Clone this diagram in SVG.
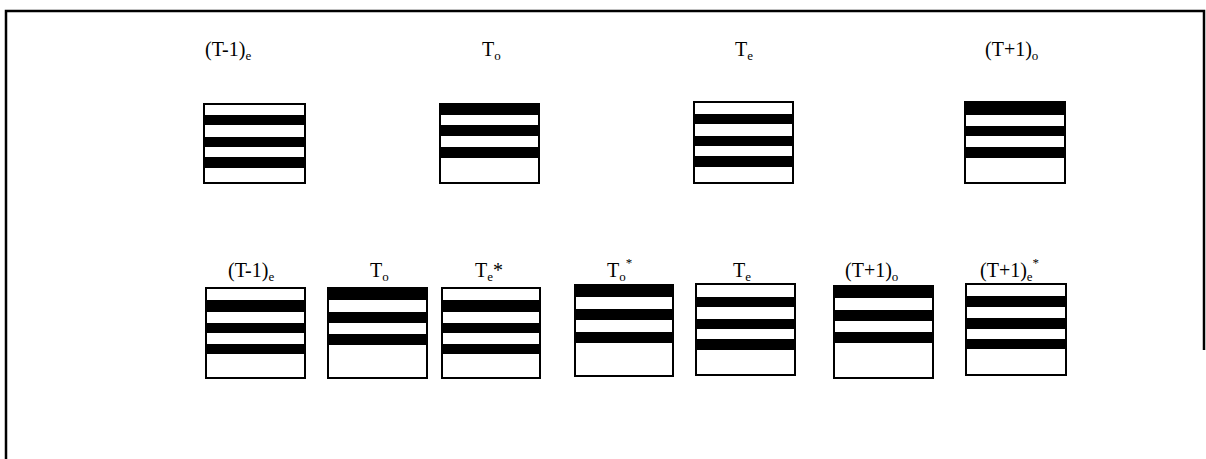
<svg xmlns="http://www.w3.org/2000/svg" width="1206" height="459" viewBox="0 0 1206 459">
  <style>
    .frame { fill: none; stroke: #000; stroke-width: 2.5; }
    .box { fill: #fff; stroke: #000; stroke-width: 2; }
    .bar { fill: #000; }
    .lbl { font-family: "Liberation Serif", "Times New Roman", serif; font-size: 20px; fill: #000; }
    .sub { font-size: 13px; }
  </style>

  <rect width="1206" height="459" fill="#fff"/>

  <!-- open frame: top, left and right edges -->
  <path class="frame" d="M6,459 V11 H1204 V350"/>

  <!-- top row -->
  <g id="top-T-1e">
    <text class="lbl" x="205" y="56">(T-1)<tspan class="sub" dy="4">e</tspan></text>
    <rect class="box" x="204" y="104" width="101" height="79"/>
    <rect class="bar" x="204" y="115" width="101" height="10"/>
    <rect class="bar" x="204" y="137" width="101" height="10"/>
    <rect class="bar" x="204" y="157" width="101" height="11"/>
  </g>

  <g id="top-To">
    <text class="lbl" x="482" y="56">T<tspan class="sub" dy="4">o</tspan></text>
    <rect class="box" x="440" y="104" width="99" height="79"/>
    <rect class="bar" x="440" y="104" width="99" height="11"/>
    <rect class="bar" x="440" y="125" width="99" height="11"/>
    <rect class="bar" x="440" y="147" width="99" height="11"/>
  </g>

  <g id="top-Te">
    <text class="lbl" x="735" y="56">T<tspan class="sub" dy="4">e</tspan></text>
    <rect class="box" x="694" y="102" width="99" height="81"/>
    <rect class="bar" x="694" y="114" width="99" height="10"/>
    <rect class="bar" x="694" y="136" width="99" height="10"/>
    <rect class="bar" x="694" y="156" width="99" height="11"/>
  </g>

  <g id="top-T+1o">
    <text class="lbl" x="985" y="56">(T+1)<tspan class="sub" dy="4">o</tspan></text>
    <rect class="box" x="965" y="102" width="100" height="81"/>
    <rect class="bar" x="965" y="102" width="100" height="13"/>
    <rect class="bar" x="965" y="126" width="100" height="10"/>
    <rect class="bar" x="965" y="147" width="100" height="11"/>
  </g>

  <!-- bottom row -->
  <g id="bot-T-1e">
    <text class="lbl" x="228" y="277">(T-1)<tspan class="sub" dy="4">e</tspan></text>
    <rect class="box" x="206" y="288" width="99" height="90"/>
    <rect class="bar" x="206" y="300" width="99" height="12"/>
    <rect class="bar" x="206" y="323" width="99" height="10"/>
    <rect class="bar" x="206" y="344" width="99" height="10"/>
  </g>

  <g id="bot-To">
    <text class="lbl" x="370" y="277">T<tspan class="sub" dy="4">o</tspan></text>
    <rect class="box" x="328" y="288" width="99" height="90"/>
    <rect class="bar" x="328" y="288" width="99" height="12"/>
    <rect class="bar" x="328" y="312" width="99" height="11"/>
    <rect class="bar" x="328" y="334" width="99" height="11"/>
  </g>

  <g id="bot-Te-star">
    <text class="lbl" x="475" y="277">T<tspan class="sub" dy="4">e</tspan><tspan dy="-4">*</tspan></text>
    <rect class="box" x="442" y="288" width="98" height="90"/>
    <rect class="bar" x="442" y="300" width="98" height="12"/>
    <rect class="bar" x="442" y="323" width="98" height="10"/>
    <rect class="bar" x="442" y="344" width="98" height="10"/>
  </g>

  <g id="bot-To-star">
    <text class="lbl" x="607" y="277">T<tspan class="sub" dy="4">o</tspan><tspan class="sub" dy="-14">*</tspan></text>
    <rect class="box" x="575" y="285" width="98" height="91"/>
    <rect class="bar" x="575" y="285" width="98" height="12"/>
    <rect class="bar" x="575" y="309" width="98" height="11"/>
    <rect class="bar" x="575" y="332" width="98" height="11"/>
  </g>

  <g id="bot-Te">
    <text class="lbl" x="733" y="277">T<tspan class="sub" dy="4">e</tspan></text>
    <rect class="box" x="696" y="284" width="99" height="91"/>
    <rect class="bar" x="696" y="297" width="99" height="10"/>
    <rect class="bar" x="696" y="319" width="99" height="10"/>
    <rect class="bar" x="696" y="339" width="99" height="11"/>
  </g>

  <g id="bot-T+1o">
    <text class="lbl" x="845" y="277">(T+1)<tspan class="sub" dy="4">o</tspan></text>
    <rect class="box" x="834" y="286" width="99" height="92"/>
    <rect class="bar" x="834" y="286" width="99" height="12"/>
    <rect class="bar" x="834" y="310" width="99" height="11"/>
    <rect class="bar" x="834" y="332" width="99" height="11"/>
  </g>

  <g id="bot-T+1e-star">
    <text class="lbl" x="980" y="277">(T+1)<tspan class="sub" dy="4">e</tspan><tspan class="sub" dy="-14">*</tspan></text>
    <rect class="box" x="966" y="284" width="100" height="91"/>
    <rect class="bar" x="966" y="296" width="100" height="11"/>
    <rect class="bar" x="966" y="318" width="100" height="11"/>
    <rect class="bar" x="966" y="339" width="100" height="10"/>
  </g>
</svg>
